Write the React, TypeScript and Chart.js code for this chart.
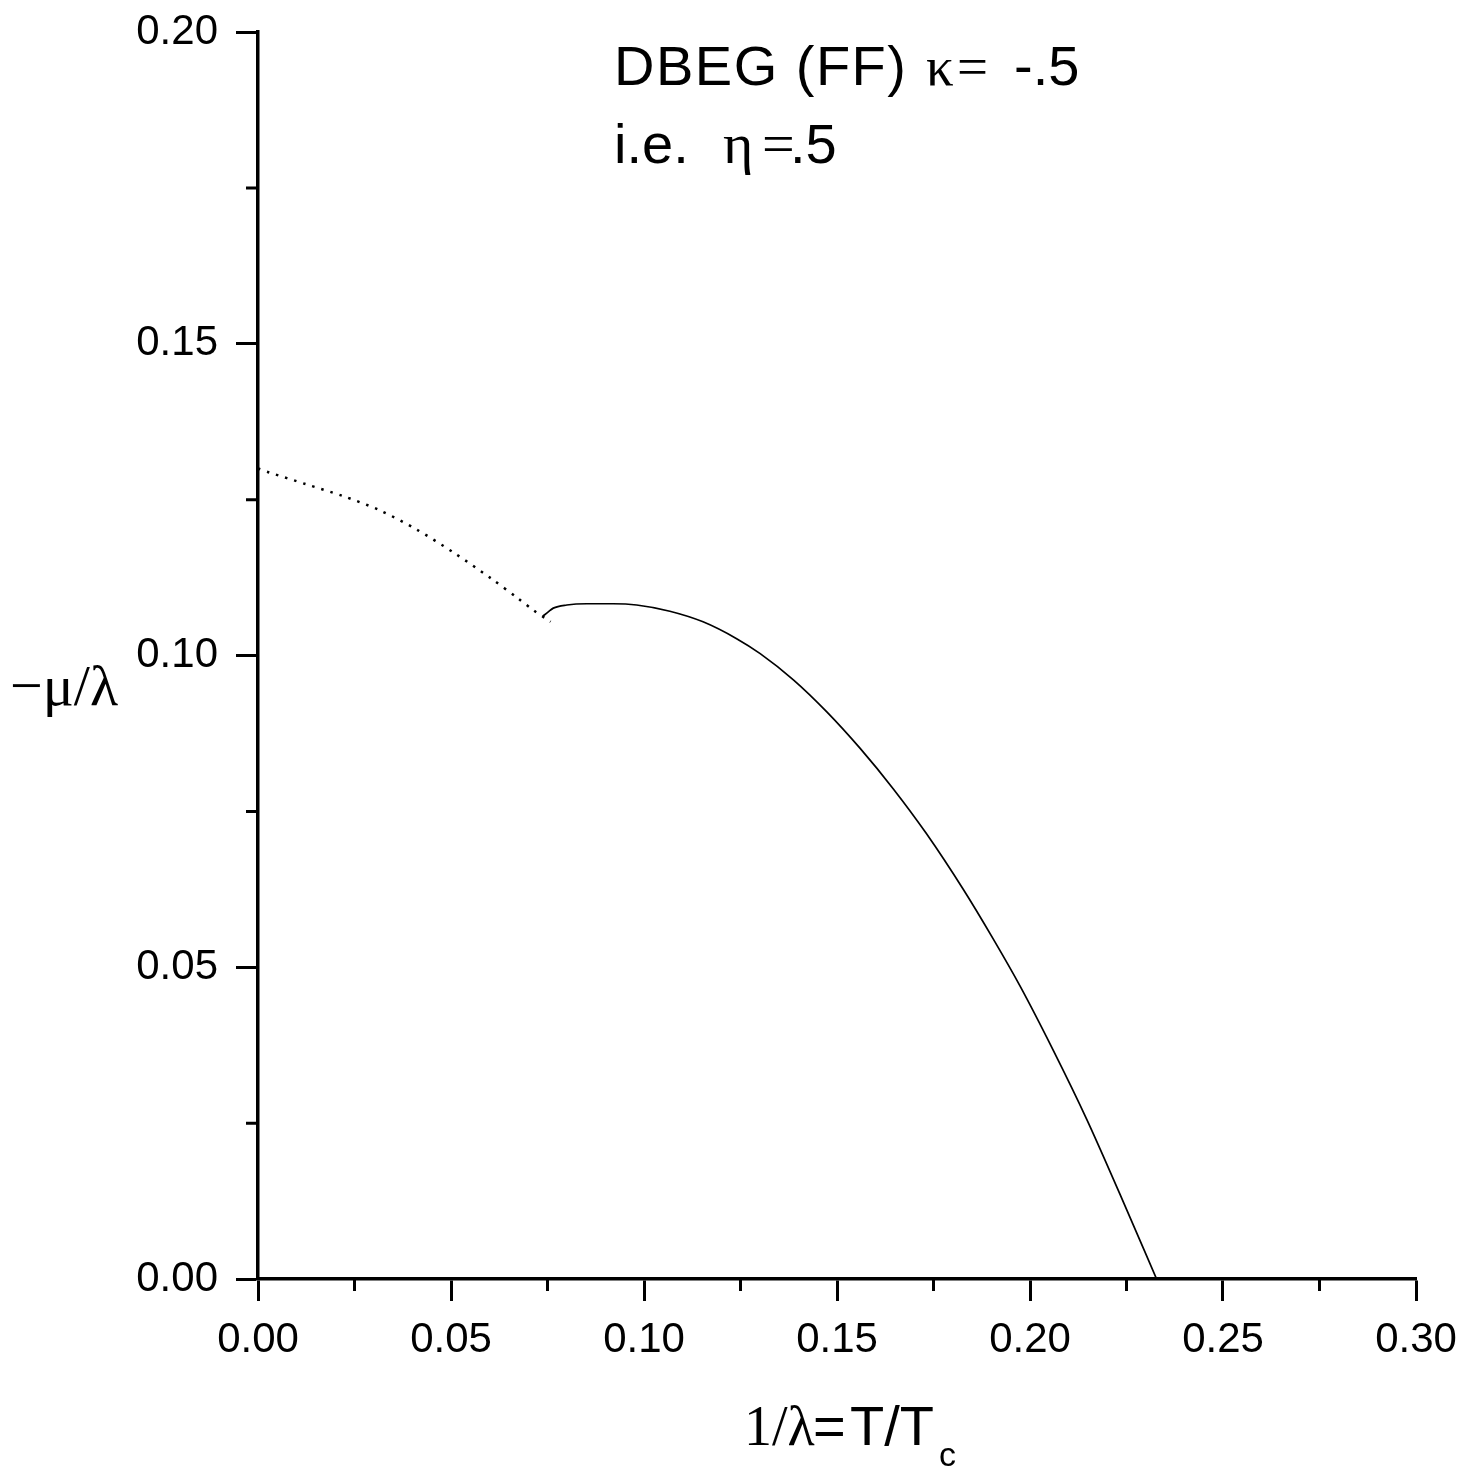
import React, { useEffect, useRef } from "react";
import { Chart, registerables } from "chart.js";

Chart.register(...registerables);

// Metastable / dotted branch
const dottedX = [0.0, 0.0027, 0.0123, 0.0219, 0.0315, 0.0411, 0.0507, 0.0603, 0.0675, 0.0715, 0.0758];
const dottedY = [0.1300, 0.1294, 0.1275, 0.1256, 0.1233, 0.1202, 0.1165, 0.1124, 0.1091, 0.1072, 0.1054];

// Solid transition line
const solidX = [0.0738, 0.0752, 0.0765, 0.0800, 0.0852, 0.0920, 0.0981, 0.1067, 0.1153, 0.1240, 0.1301, 0.1387, 0.1473, 0.1560, 0.1646, 0.1732, 0.1827, 0.1905, 0.1974, 0.2060, 0.2147, 0.2233, 0.2328];
const solidY = [0.1063, 0.1070, 0.1076, 0.1081, 0.1083, 0.1083, 0.1081, 0.1071, 0.1054, 0.1027, 0.1003, 0.0961, 0.0910, 0.0851, 0.0786, 0.0714, 0.0625, 0.0545, 0.0470, 0.0367, 0.0256, 0.0136, 0.0];

const xMin = 0, xMax = 0.30, xStep = 0.05;
const yMin = 0, yMax = 0.20, yStep = 0.05;
const xMinorTicks = [0.025, 0.075, 0.125, 0.175, 0.225, 0.275];
const yMinorTicks = [0.025, 0.075, 0.125, 0.175];

const SANS = '"Liberation Sans", Arial, sans-serif';
const SERIF = '"Liberation Serif", "Times New Roman", serif';

const extrasPlugin = {
  id: "extras",
  afterDraw(chart: any) {
    const ctx = chart.ctx;
    const xs = chart.scales.x;
    const ys = chart.scales.y;
    const area = chart.chartArea;
    ctx.save();
    ctx.strokeStyle = "#000";
    ctx.lineWidth = 3;
    ctx.beginPath();
    for (const v of xMinorTicks) {
      const px = xs.getPixelForValue(v);
      ctx.moveTo(px, area.bottom);
      ctx.lineTo(px, area.bottom + 12);
    }
    for (const v of yMinorTicks) {
      const py = ys.getPixelForValue(v);
      ctx.moveTo(area.left, py);
      ctx.lineTo(area.left - 12, py);
    }
    ctx.stroke();

    ctx.fillStyle = "#000";
    ctx.textBaseline = "alphabetic";
    ctx.textAlign = "left";
    // annotation line 1
    ctx.font = `56px ${SANS}`;
    (ctx as any).letterSpacing = "1.5px";
    ctx.fillText("DBEG (FF)", 614, 85);
    (ctx as any).letterSpacing = "0px";
    ctx.font = `55px ${SERIF}`;
    ctx.fillText("κ", 926, 85);
    ctx.fillText("=", 957, 85);
    ctx.font = `56px ${SANS}`;
    ctx.fillText("-.5", 1014, 85);
    // annotation line 2
    ctx.fillText("i.e.", 614, 163);
    ctx.font = `58px ${SERIF}`;
    ctx.fillText("η", 723, 163);
    ctx.fillText("=", 762, 163);
    ctx.font = `56px ${SANS}`;
    ctx.fillText(".5", 790, 163);

    // y title
    ctx.font = `58px ${SERIF}`;
    ctx.fillText("−μ/λ", 10, 705);

    // x title
    ctx.font = `56px ${SERIF}`;
    ctx.fillText("1/λ", 744, 1445);
    ctx.font = `56px ${SANS}`;
    ctx.fillText("=", 813, 1445);
    ctx.fillText("T/T", 850, 1445);
    ctx.font = `34px ${SANS}`;
    ctx.fillText("c", 939, 1466);
    ctx.restore();
  },
};

export default function App() {
  const ref = useRef<HTMLCanvasElement | null>(null);
  useEffect(() => {
    if (!ref.current) return;
    const chart = new Chart(ref.current, {
      type: "scatter",
      data: {
        datasets: [
          {
            label: "dotted",
            data: dottedX.map((x, i) => ({ x, y: dottedY[i] })),
            showLine: true,
            borderColor: "#000",
            borderWidth: 2.5,
            borderDash: [2.5, 7],
            pointRadius: 0,
            tension: 0.3,
          },
          {
            label: "solid",
            data: solidX.map((x, i) => ({ x, y: solidY[i] })),
            showLine: true,
            borderColor: "#000",
            borderWidth: 1.7,
            pointRadius: 0,
            cubicInterpolationMode: "monotone",
          },
        ],
      },
      options: {
        responsive: false,
        animation: false,
        events: [],
        layout: { padding: { left: 0, top: 32, right: 46, bottom: 0 } },
        plugins: { legend: { display: false }, tooltip: { enabled: false }, title: { display: false } },
        scales: {
          x: {
            type: "linear",
            min: xMin,
            max: xMax,
            afterFit: (s: any) => { s.height = 191; s.paddingLeft = 0; s.paddingRight = 0; },
            border: { display: true, color: "#000", width: 3.5 },
            grid: { display: true, drawOnChartArea: false, drawTicks: true, tickLength: 22, tickWidth: 3, tickColor: "#000" },
            ticks: {
              stepSize: xStep,
              color: "#000",
              font: { family: SANS, size: 42 },
              padding: 14,
              maxRotation: 0,
              callback: (v: any) => Number(v).toFixed(2),
            },
          },
          y: {
            type: "linear",
            min: yMin,
            max: yMax,
            afterFit: (s: any) => { s.width = 258; s.paddingTop = 0; s.paddingBottom = 0; },
            border: { display: true, color: "#000", width: 3.5 },
            grid: { display: true, drawOnChartArea: false, drawTicks: true, tickLength: 22, tickWidth: 3, tickColor: "#000" },
            ticks: {
              stepSize: yStep,
              color: "#000",
              font: { family: SANS, size: 42 },
              padding: 18,
              callback: (v: any) => Number(v).toFixed(2),
            },
          },
        },
      },
      plugins: [extrasPlugin],
    });
    return () => chart.destroy();
  }, []);
  return (
    <div style={{ position: "absolute", left: 0, top: 0, width: 1462, height: 1470, background: "#fff" }}>
      <canvas ref={ref} width={1462} height={1470} style={{ display: "block" }} />
    </div>
  );
}
